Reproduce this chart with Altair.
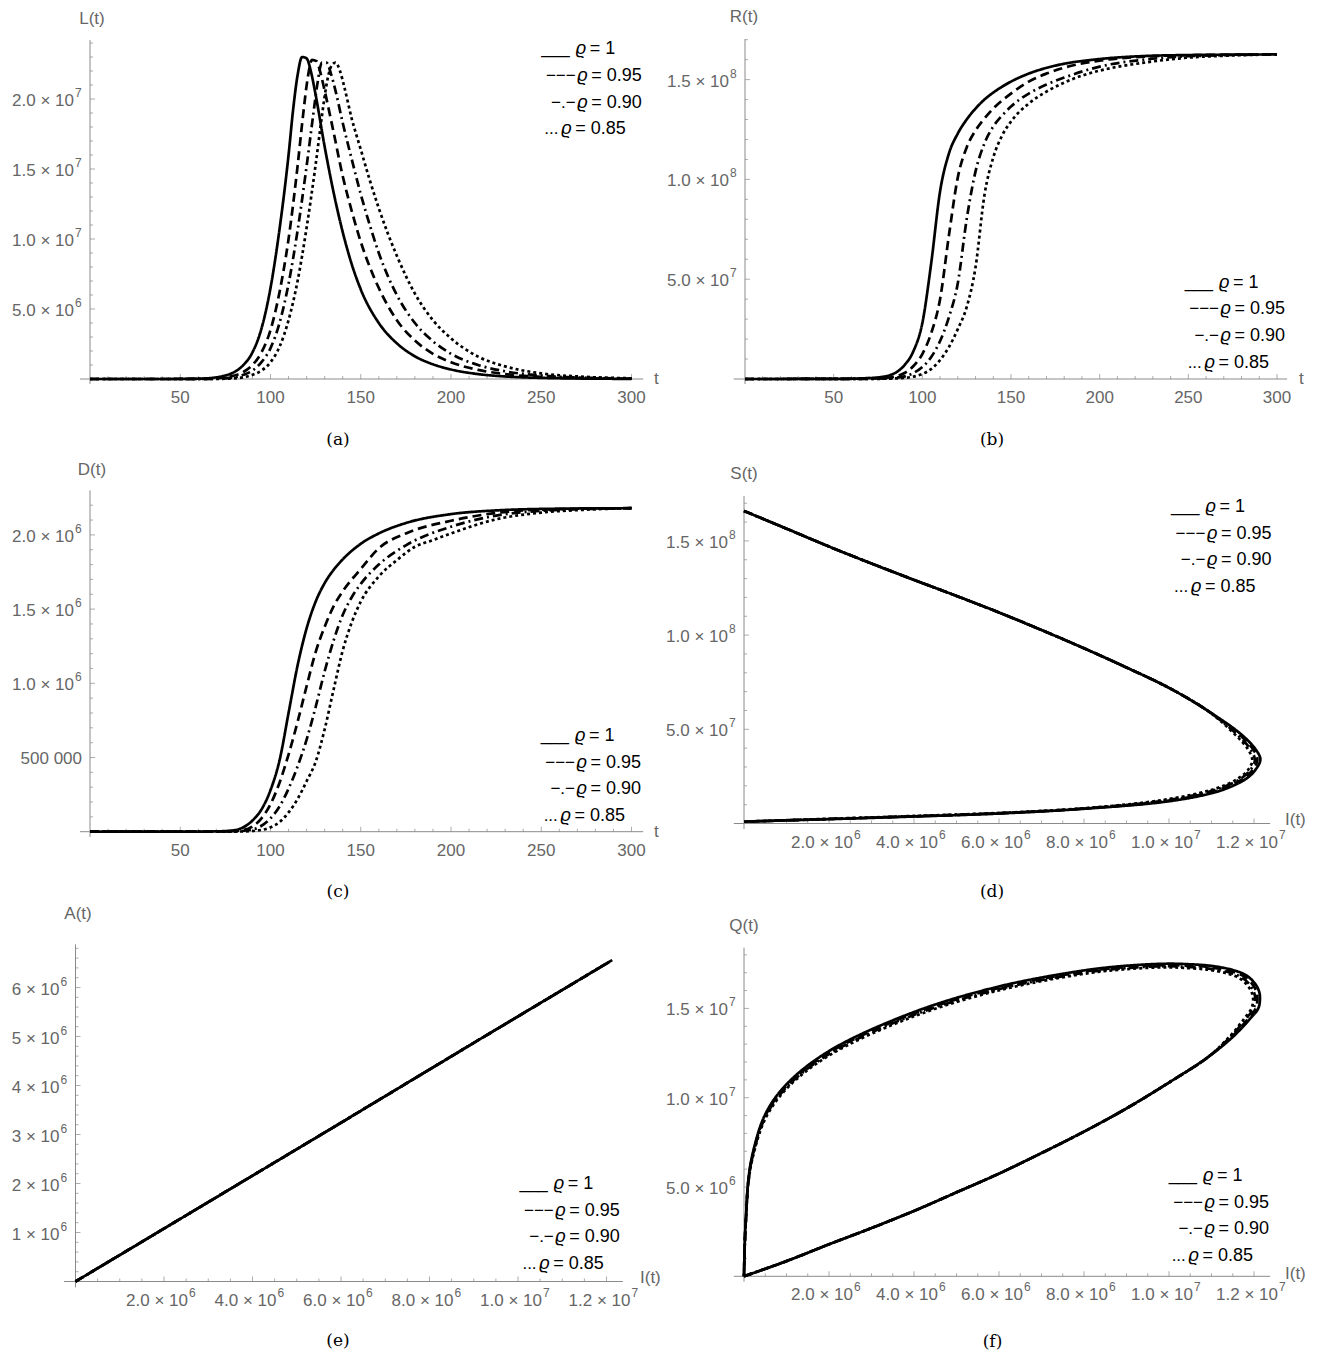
import altair as alt
import pandas as pd

# ---------------- values ----------------
LEGEND_PREFIX = ["___", "−−−", "−.−", "..."]
LEGEND_RHO = ["ϱ", "ϱ", "ϱ", "ϱ"]
LEGEND_VALUE = ["= 1", "= 0.95", "= 0.90", "= 0.85"]

# (a) L(t), millions
L_t1 = [0, 40, 55, 65, 70, 75, 80, 85, 90, 95, 100, 105, 110, 112.5, 115, 117.5, 120, 122.5, 125, 130, 135, 140, 145, 150, 160, 170, 180, 190, 200, 215, 230, 250, 275, 300]
L_v1 = [0.0, 0.0, 0.01, 0.05, 0.12, 0.25, 0.5, 1.0, 1.9, 3.6, 6.5, 10.7, 16.0, 19.2, 21.7, 23.0, 22.9, 21.9, 20.3, 16.6, 13.3, 10.5, 8.2, 6.4, 4.0, 2.55, 1.62, 1.05, 0.68, 0.35, 0.18, 0.08, 0.03, 0.01]
L_t2 = [0, 45, 60, 70, 80, 85, 90, 95, 100, 105, 110, 115, 118, 120.5, 123, 125.5, 128, 130, 135, 140, 145, 150, 155, 160, 170, 180, 190, 200, 215, 230, 250, 275, 300]
L_v2 = [0.0, 0.0, 0.01, 0.05, 0.25, 0.5, 1.0, 1.9, 3.5, 6.2, 10.0, 15.2, 18.8, 21.4, 22.8, 22.7, 21.7, 20.6, 17.6, 14.5, 12.0, 9.8, 8.0, 6.5, 4.2, 2.75, 1.8, 1.2, 0.65, 0.35, 0.15, 0.05, 0.02]
L_t3 = [0, 50, 65, 75, 85, 90, 95, 100, 105, 110, 115, 120, 123.5, 126, 128.5, 131, 133.5, 136, 140, 145, 150, 155, 160, 170, 180, 190, 200, 215, 230, 250, 275, 300]
L_v3 = [0.0, 0.0, 0.01, 0.05, 0.3, 0.6, 1.2, 2.2, 4.0, 6.8, 10.6, 15.2, 18.7, 21.1, 22.6, 22.6, 21.8, 20.6, 18.3, 15.7, 13.2, 11.0, 9.0, 6.0, 4.0, 2.7, 1.8, 1.0, 0.55, 0.25, 0.09, 0.03]
L_t4 = [0, 55, 70, 80, 90, 95, 100, 105, 110, 115, 120, 125, 128.5, 131, 133.5, 136, 138.5, 141, 145, 150, 155, 160, 165, 170, 180, 190, 200, 215, 230, 250, 275, 300]
L_v4 = [0.0, 0.0, 0.01, 0.05, 0.3, 0.6, 1.2, 2.3, 4.2, 7.0, 10.8, 15.3, 18.8, 21.0, 22.3, 22.6, 22.0, 20.8, 18.6, 16.4, 14.2, 12.2, 10.4, 8.8, 6.1, 4.2, 2.9, 1.6, 0.9, 0.4, 0.15, 0.05]

# (b) R(t), millions
R_t1 = [0, 50, 65, 75, 80, 85, 90, 95, 100, 105, 110, 115, 120, 125, 130, 135, 140, 150, 160, 175, 200, 225, 250, 300]
R_v1 = [0, 0.05, 0.3, 0.8, 1.5, 3.2, 7, 14, 28, 58, 94, 113, 123, 130, 135.5, 140, 143.5, 149, 153, 157, 160.3, 161.8, 162.3, 162.6]
R_t2 = [0, 60, 75, 85, 90, 95, 100, 105, 110, 115, 120, 125, 130, 135, 140, 150, 160, 170, 180, 200, 225, 250, 300]
R_v2 = [0, 0.05, 0.3, 1.3, 3, 6.5, 12.5, 23, 40, 72, 101, 116, 124.5, 130.5, 135.5, 143, 149, 153, 156, 159.5, 161.5, 162.2, 162.6]
R_t3 = [0, 65, 80, 90, 95, 100, 105, 110, 115, 120, 125, 130, 135, 140, 145, 150, 160, 170, 180, 200, 225, 250, 300]
R_v3 = [0, 0.05, 0.3, 1.3, 3, 6, 11, 19, 31, 48, 80, 104, 118, 126.5, 132, 136.5, 143, 147.5, 151, 156.5, 160, 161.7, 162.6]
R_t4 = [0, 70, 85, 95, 100, 105, 110, 115, 120, 125, 130, 135, 140, 145, 150, 160, 170, 180, 190, 200, 225, 250, 275, 300]
R_v4 = [0, 0.05, 0.3, 1.2, 2.5, 5, 9.5, 16, 25, 36, 56, 92, 111, 122, 129, 138, 144, 148.5, 152, 154.5, 158.5, 161, 162.1, 162.6]

# (c) D(t), thousands
D_t1 = [0, 60, 70, 80, 85, 90, 95, 100, 105, 110, 115, 120, 125, 130, 135, 140, 150, 160, 175, 200, 225, 250, 300]
D_v1 = [0, 0.5, 2, 10, 30, 75, 150, 280, 480, 800, 1120, 1370, 1550, 1675, 1765, 1835, 1940, 2010, 2080, 2140, 2165, 2175, 2180]
D_t2 = [0, 65, 75, 85, 90, 95, 100, 105, 110, 115, 120, 125, 130, 135, 140, 150, 160, 175, 200, 225, 250, 300]
D_v2 = [0, 0.5, 2, 12, 35, 90, 185, 330, 520, 740, 980, 1210, 1380, 1520, 1620, 1770, 1910, 2010, 2095, 2148, 2170, 2180]
D_t3 = [0, 70, 80, 90, 95, 100, 105, 110, 115, 120, 125, 130, 135, 140, 145, 150, 160, 175, 200, 225, 250, 300]
D_v3 = [0, 0.5, 2, 15, 40, 90, 170, 290, 440, 620, 840, 1080, 1290, 1460, 1580, 1670, 1800, 1930, 2055, 2130, 2162, 2180]
D_t4 = [0, 75, 85, 95, 100, 105, 110, 115, 120, 125, 130, 135, 140, 145, 150, 160, 170, 180, 190, 200, 225, 250, 275, 300]
D_v4 = [0, 0.5, 2, 12, 30, 65, 130, 220, 340, 470, 690, 960, 1220, 1410, 1550, 1720, 1830, 1920, 1965, 2010, 2105, 2150, 2170, 2180]

# (d) S against I, millions
S_i1 = [0.0, 1.0, 2.0, 3.0, 4.0, 5.0, 6.0, 7.0, 8.0, 9.0, 10.0, 10.9, 11.7, 12.05, 12.15, 12.05, 11.85, 11.4, 10.9, 9.9, 8.0, 6.0, 4.0, 2.0, 0.0]
S_s1 = [165.9, 156.5, 147.0, 138.0, 129.3, 120.8, 112.0, 102.7, 93.0, 82.8, 72.0, 60.0, 47.3, 39.0, 34.0, 29.0, 24.3, 19.0, 15.5, 11.5, 7.8, 5.3, 3.7, 2.3, 1.0]
S_i2 = [0.0, 1.0, 2.0, 3.0, 4.0, 5.0, 6.0, 7.0, 8.0, 9.0, 10.0, 10.9, 11.65, 11.99, 12.08, 11.98, 11.77, 11.32, 10.82, 9.85, 8.0, 6.0, 4.0, 2.0, 0.0]
S_s2 = [165.9, 156.5, 147.0, 138.0, 129.3, 120.8, 112.0, 102.7, 93.0, 82.8, 72.0, 60.0, 47.3, 39.0, 33.8, 28.8, 24.1, 19.1, 15.7, 11.7, 7.9, 5.4, 3.8, 2.4, 1.0]
S_i3 = [0.0, 1.0, 2.0, 3.0, 4.0, 5.0, 6.0, 7.0, 8.0, 9.0, 10.0, 10.9, 11.6, 11.93, 12.02, 11.92, 11.7, 11.26, 10.76, 9.8, 8.0, 6.0, 4.0, 2.0, 0.0]
S_s3 = [165.9, 156.5, 147.0, 138.0, 129.3, 120.8, 112.0, 102.7, 93.0, 82.8, 72.0, 60.0, 47.3, 39.0, 33.6, 28.6, 24.0, 19.2, 15.9, 11.9, 8.0, 5.5, 3.9, 2.4, 1.0]
S_i4 = [0.0, 1.0, 2.0, 3.0, 4.0, 5.0, 6.0, 7.0, 8.0, 9.0, 10.0, 10.9, 11.55, 11.87, 11.96, 11.86, 11.63, 11.2, 10.7, 9.75, 8.0, 6.0, 4.0, 2.0, 0.0]
S_s4 = [165.9, 156.5, 147.0, 138.0, 129.3, 120.8, 112.0, 102.7, 93.0, 82.8, 72.0, 60.0, 47.3, 39.0, 33.4, 28.4, 23.9, 19.3, 16.1, 12.1, 8.1, 5.6, 4.0, 2.5, 1.0]

# (e) A against I, millions
A_i1 = [0.0, 3.0, 6.0, 9.0, 12.13]
A_a1 = [0.0, 1.62, 3.24, 4.87, 6.56]
A_i2 = [0.0, 3.0, 6.0, 9.0, 12.06]
A_a2 = [0.0, 1.62, 3.24, 4.87, 6.52]
A_i3 = [0.0, 3.0, 6.0, 9.0, 12.0]
A_a3 = [0.0, 1.62, 3.24, 4.87, 6.49]
A_i4 = [0.0, 3.0, 6.0, 9.0, 11.94]
A_a4 = [0.0, 1.62, 3.24, 4.87, 6.46]

# (f) Q against I, millions
Q_i1 = [0.0, 1.0, 2.0, 3.0, 4.0, 5.0, 6.0, 7.0, 8.0, 9.0, 10.0, 10.9, 11.5, 11.9, 12.1, 12.14, 12.12, 12.02, 11.82, 11.5, 11.0, 10.4, 9.9, 8.9, 7.9, 5.95, 3.96, 2.0, 1.0, 0.5, 0.2, 0.1, 0.05, 0.02, 0.0]
Q_q1 = [0.0, 0.85, 1.79, 2.7, 3.66, 4.7, 5.75, 6.9, 8.1, 9.4, 10.85, 12.24, 13.4, 14.4, 15.0, 15.5, 15.95, 16.4, 16.85, 17.15, 17.38, 17.48, 17.5, 17.37, 17.09, 16.2, 14.76, 12.61, 10.75, 9.07, 6.83, 5.34, 3.47, 2.0, 0.0]
Q_i2 = [0.0, 1.0, 2.0, 3.0, 4.0, 5.0, 6.0, 7.0, 8.0, 9.0, 10.0, 10.9, 11.48, 11.86, 12.04, 12.08, 12.06, 11.96, 11.77, 11.46, 10.97, 10.38, 9.9, 8.9, 7.9, 5.95, 3.96, 2.0, 1.0, 0.5, 0.2, 0.1, 0.05, 0.02, 0.0]
Q_q2 = [0.0, 0.85, 1.79, 2.7, 3.66, 4.7, 5.75, 6.9, 8.1, 9.4, 10.85, 12.24, 13.42, 14.42, 15.0, 15.5, 15.93, 16.36, 16.79, 17.08, 17.3, 17.4, 17.42, 17.3, 17.02, 16.12, 14.68, 12.52, 10.66, 8.98, 6.75, 5.28, 3.42, 1.97, 0.0]
Q_i3 = [0.0, 1.0, 2.0, 3.0, 4.0, 5.0, 6.0, 7.0, 8.0, 9.0, 10.0, 10.9, 11.46, 11.82, 11.99, 12.03, 12.0, 11.9, 11.72, 11.42, 10.94, 10.36, 9.9, 8.9, 7.9, 5.95, 3.96, 2.0, 1.0, 0.5, 0.2, 0.1, 0.05, 0.02, 0.0]
Q_q3 = [0.0, 0.85, 1.79, 2.7, 3.66, 4.7, 5.75, 6.9, 8.1, 9.4, 10.85, 12.24, 13.44, 14.44, 15.0, 15.5, 15.9, 16.32, 16.73, 17.01, 17.23, 17.33, 17.36, 17.24, 16.96, 16.05, 14.6, 12.44, 10.58, 8.9, 6.68, 5.22, 3.38, 1.95, 0.0]
Q_i4 = [0.0, 1.0, 2.0, 3.0, 4.0, 5.0, 6.0, 7.0, 8.0, 9.0, 10.0, 10.9, 11.44, 11.78, 11.94, 11.98, 11.95, 11.85, 11.67, 11.38, 10.91, 10.34, 9.9, 8.9, 7.9, 5.95, 3.96, 2.0, 1.0, 0.5, 0.2, 0.1, 0.05, 0.02, 0.0]
Q_q4 = [0.0, 0.85, 1.79, 2.7, 3.66, 4.7, 5.75, 6.9, 8.1, 9.4, 10.85, 12.24, 13.46, 14.46, 15.0, 15.5, 15.87, 16.28, 16.67, 16.95, 17.17, 17.27, 17.3, 17.18, 16.9, 15.98, 14.52, 12.36, 10.5, 8.82, 6.6, 5.16, 3.33, 1.92, 0.0]

# tick labels
T_TICKS = [50, 100, 150, 200, 250, 300]
T_LABELS = ["50", "100", "150", "200", "250", "300"]
I_TICKS = [2, 4, 6, 8, 10, 12]
I_BASE = ["2.0 × 10", "4.0 × 10", "6.0 × 10", "8.0 × 10", "1.0 × 10", "1.2 × 10"]
I_EXP = ["6", "6", "6", "6", "7", "7"]
L_TICKS = [5, 10, 15, 20]
L_BASE = ["5.0 × 10", "1.0 × 10", "1.5 × 10", "2.0 × 10"]
L_EXP = ["6", "7", "7", "7"]
R_TICKS = [50, 100, 150]
R_BASE = ["5.0 × 10", "1.0 × 10", "1.5 × 10"]
R_EXP = ["7", "8", "8"]
D_TICKS = [500, 1000, 1500, 2000]
D_BASE = ["500 000", "1.0 × 10", "1.5 × 10", "2.0 × 10"]
D_EXP = ["", "6", "6", "6"]
A_TICKS = [1, 2, 3, 4, 5, 6]
A_BASE = ["1 × 10", "2 × 10", "3 × 10", "4 × 10", "5 × 10", "6 × 10"]
A_EXP = ["6", "6", "6", "6", "6", "6"]
Q_TICKS = [5, 10, 15]
Q_BASE = ["5.0 × 10", "1.0 × 10", "1.5 × 10"]
Q_EXP = ["6", "7", "7"]

# ---------------- styling ----------------
SANS = "Liberation Sans"
LEG_FONT = "Liberation Sans"
SERIF = "DejaVu Serif"
AXC = "#8a8a8a"
LBC = "#666666"
TICK_FS = 17
EXP_FS = 12
DASHES = [[1, 0], [9, 5], [9, 4, 2, 4], [3, 3]]
W = 657
ROW_H = [450, 442, 451]


def minor(step, n, every):
    return [i * step for i in range(1, n) if i % every != 0]


def build_panel(p):
    xs = alt.Scale(domain=p["xdom"], range=p["xrng"], nice=False, zero=False)
    ys = alt.Scale(domain=p["ydom"], range=p["yrng"], nice=False, zero=False)

    def X(f):
        return alt.X(f, type="quantitative", scale=xs, axis=None)

    def Y(f):
        return alt.Y(f, type="quantitative", scale=ys, axis=None)

    def XD(v):
        return alt.XDatum(v, type="quantitative", scale=xs, axis=None)

    def YD(v):
        return alt.YDatum(v, type="quantitative", scale=ys, axis=None)

    layers = []
    # axis lines
    layers.append(alt.Chart(pd.DataFrame({"a": [p["xaxis"][0]], "b": [p["xaxis"][1]]}))
                  .mark_rule(color=AXC, strokeWidth=1)
                  .encode(x=X("a"), x2=alt.X2("b"), y=YD(0)))
    layers.append(alt.Chart(pd.DataFrame({"a": [p["yaxis"][0]], "b": [p["yaxis"][1]]}))
                  .mark_rule(color=AXC, strokeWidth=1)
                  .encode(y=Y("a"), y2=alt.Y2("b"), x=XD(0)))
    # ticks
    for vals, size in ((p["xmajor"], 5), (p["xminor"], 3)):
        layers.append(alt.Chart(pd.DataFrame({"v": vals}))
                      .mark_tick(orient="vertical", size=size, thickness=1, color=AXC, yOffset=-size / 2)
                      .encode(x=X("v"), y=YD(0)))
    for vals, size in ((p["ymajor"], 5), (p["yminor"], 3)):
        layers.append(alt.Chart(pd.DataFrame({"v": vals}))
                      .mark_tick(orient="horizontal", size=size, thickness=1, color=AXC, xOffset=size / 2)
                      .encode(y=Y("v"), x=XD(0)))
    # curves
    for i, (xv, yv) in enumerate(p["series"]):
        df = pd.DataFrame({"x": xv, "y": yv, "o": list(range(len(xv)))})
        layers.append(alt.Chart(df)
                      .mark_line(color="black", strokeWidth=2.7, strokeDash=DASHES[i],
                                 interpolate=p["interp"], strokeCap="butt")
                      .encode(x=X("x"), y=Y("y"), order=alt.Order("o:Q")))
    # x tick labels
    xl = pd.DataFrame({"v": p["xlab"][0], "base": p["xlab"][1], "exp": p["xlab"][2]})
    if all(e == "" for e in p["xlab"][2]):
        layers.append(alt.Chart(xl).mark_text(font=SANS, fontSize=TICK_FS, color=LBC, align="center",
                                              baseline="middle", dy=19)
                      .encode(x=X("v"), y=YD(0), text="base:N"))
    else:
        layers.append(alt.Chart(xl).mark_text(font=SANS, fontSize=TICK_FS, color=LBC, align="right",
                                              baseline="middle", dx=24, dy=19)
                      .encode(x=X("v"), y=YD(0), text="base:N"))
        layers.append(alt.Chart(xl).mark_text(font=SANS, fontSize=EXP_FS, color=LBC, align="left",
                                              baseline="middle", dx=25, dy=11)
                      .encode(x=X("v"), y=YD(0), text="exp:N"))
    # y tick labels
    yl = pd.DataFrame({"v": p["ylab"][0], "base": p["ylab"][1], "exp": p["ylab"][2]})
    plain = yl[yl["exp"] == ""]
    sup = yl[yl["exp"] != ""]
    if len(plain):
        layers.append(alt.Chart(plain).mark_text(font=SANS, fontSize=TICK_FS, color=LBC, align="right",
                                                 baseline="middle", dx=-8, dy=1)
                      .encode(y=Y("v"), x=XD(0), text="base:N"))
    layers.append(alt.Chart(sup).mark_text(font=SANS, fontSize=TICK_FS, color=LBC, align="right",
                                           baseline="middle", dx=-16, dy=2)
                  .encode(y=Y("v"), x=XD(0), text="base:N"))
    layers.append(alt.Chart(sup).mark_text(font=SANS, fontSize=EXP_FS, color=LBC, align="left",
                                           baseline="middle", dx=-15, dy=-6)
                  .encode(y=Y("v"), x=XD(0), text="exp:N"))
    # axis titles
    layers.append(alt.Chart(pd.DataFrame({"t": [p["ytitle"][0]]}))
                  .mark_text(font=SANS, fontSize=17, color=LBC, align="center", baseline="middle")
                  .encode(x=alt.value(p["ytitle"][1]), y=alt.value(p["ytitle"][2]), text="t:N"))
    layers.append(alt.Chart(pd.DataFrame({"t": [p["xtitle"][0]]}))
                  .mark_text(font=SANS, fontSize=17, color=LBC, align="left", baseline="middle")
                  .encode(x=alt.value(p["xtitle"][1]), y=alt.value(p["xtitle"][2]), text="t:N"))
    # legend text
    ax, ay = p["legend"]
    rho_dx = [34, 35.5, 35.5, 19.5]
    gap = [6, 1.5, 1.5, 2.7]
    leg = pd.DataFrame({
        "prefix": LEGEND_PREFIX, "rho": LEGEND_RHO, "val": LEGEND_VALUE,
        "xr": [ax + d for d in rho_dx],
        "xp": [ax + d - g for d, g in zip(rho_dx, gap)],
        "xv": [ax + d + 14 for d in rho_dx],
        "y": [ay + 26.6 * i for i in range(4)],
    })
    layers.append(alt.Chart(leg).mark_text(font=LEG_FONT, fontSize=17, color="black", align="right", baseline="middle")
                  .encode(x=alt.X("xp:Q", scale=None), y=alt.Y("y:Q", scale=None), text="prefix:N"))
    layers.append(alt.Chart(leg).mark_text(font=LEG_FONT, fontSize=18, fontStyle="italic", color="black",
                                           align="left", baseline="middle")
                  .encode(x=alt.X("xr:Q", scale=None), y=alt.Y("y:Q", scale=None), text="rho:N"))
    layers.append(alt.Chart(leg).mark_text(font=LEG_FONT, fontSize=18, color="black", align="left", baseline="middle")
                  .encode(x=alt.X("xv:Q", scale=None), y=alt.Y("y:Q", scale=None), text="val:N"))
    # caption
    layers.append(alt.Chart(pd.DataFrame({"t": [p["caption"][0]]}))
                  .mark_text(font=SERIF, fontSize=17, color="black", align="center", baseline="middle")
                  .encode(x=alt.value(p["caption"][1]), y=alt.value(p["caption"][2]), text="t:N"))
    return alt.layer(*layers).properties(width=W, height=p["h"])


PA = dict(h=ROW_H[0], xdom=[0, 300], xrng=[82, 623.5], ydom=[0, 25], yrng=[370, 20],
          xaxis=[-5.5, 306.5], yaxis=[-0.35, 24.2],
          xmajor=T_TICKS, xminor=minor(10, 31, 5), ymajor=L_TICKS, yminor=minor(1, 25, 5),
          series=[(L_t1, L_v1), (L_t2, L_v2), (L_t3, L_v3), (L_t4, L_v4)], interp="monotone",
          xlab=(T_TICKS, T_LABELS, [""] * 6), ylab=(L_TICKS, L_BASE, L_EXP),
          ytitle=("L(t)", 84, 10), xtitle=("t", 646, 370), legend=(533.7, 40.3), caption=("(a)", 330, 431))
PB = dict(h=ROW_H[0], xdom=[0, 300], xrng=[80, 612], ydom=[0, 175], yrng=[370, 20.7],
          xaxis=[-6.4, 305.7], yaxis=[-2.5, 170.3],
          xmajor=T_TICKS, xminor=minor(10, 31, 5), ymajor=R_TICKS, yminor=minor(10, 18, 5),
          series=[(R_t1, R_v1), (R_t2, R_v2), (R_t3, R_v3), (R_t4, R_v4)], interp="monotone",
          xlab=(T_TICKS, T_LABELS, [""] * 6), ylab=(R_TICKS, R_BASE, R_EXP),
          ytitle=("R(t)", 79, 8), xtitle=("t", 634, 370), legend=(520, 273.7), caption=("(b)", 327, 431))
PC = dict(h=ROW_H[1], xdom=[0, 300], xrng=[82, 623.5], ydom=[0, 2500], yrng=[372.7, 1.7],
          xaxis=[-5.5, 306.5], yaxis=[-35, 2300],
          xmajor=T_TICKS, xminor=minor(10, 31, 5), ymajor=D_TICKS, yminor=minor(100, 23, 5),
          series=[(D_t1, D_v1), (D_t2, D_v2), (D_t3, D_v3), (D_t4, D_v4)], interp="monotone",
          xlab=(T_TICKS, T_LABELS, [""] * 6), ylab=(D_TICKS, D_BASE, D_EXP),
          ytitle=("D(t)", 84, 11), xtitle=("t", 646, 372.7), legend=(533, 277), caption=("(c)", 330, 433))
PD = dict(h=ROW_H[1], xdom=[0, 12], xrng=[79, 589], ydom=[0, 175], yrng=[364.5, 34.8],
          xaxis=[-0.24, 12.38], yaxis=[-3, 173.8],
          xmajor=I_TICKS, xminor=minor(0.5, 25, 4), ymajor=R_TICKS, yminor=minor(10, 18, 5),
          series=[(S_i1, S_s1), (S_i2, S_s2), (S_i3, S_s3), (S_i4, S_s4)], interp="catmull-rom",
          xlab=(I_TICKS, I_BASE, I_EXP), ylab=(R_TICKS, R_BASE, R_EXP),
          ytitle=("S(t)", 79, 15), xtitle=("I(t)", 620, 361), legend=(506.4, 48), caption=("(d)", 327, 433))
PE = dict(h=ROW_H[2], xdom=[0, 12], xrng=[67.5, 598.5], ydom=[0, 7], yrng=[380.5, 37.5],
          xaxis=[-0.26, 12.37], yaxis=[-0.12, 6.88],
          xmajor=I_TICKS, xminor=minor(0.5, 25, 4), ymajor=A_TICKS, yminor=minor(0.2, 35, 5),
          series=[(A_i1, A_a1), (A_i2, A_a2), (A_i3, A_a3), (A_i4, A_a4)], interp="linear",
          xlab=(I_TICKS, I_BASE, I_EXP), ylab=(A_TICKS, A_BASE, A_EXP),
          ytitle=("A(t)", 70, 13), xtitle=("I(t)", 632, 377), legend=(511.8, 283), caption=("(e)", 330, 440))
PF = dict(h=ROW_H[2], xdom=[0, 12], xrng=[79, 589], ydom=[0, 20], yrng=[375.3, 18.1],
          xaxis=[-0.24, 12.38], yaxis=[-0.3, 18.4],
          xmajor=I_TICKS, xminor=minor(0.5, 25, 4), ymajor=Q_TICKS, yminor=minor(1, 19, 5),
          series=[(Q_i1, Q_q1), (Q_i2, Q_q2), (Q_i3, Q_q3), (Q_i4, Q_q4)], interp="catmull-rom",
          xlab=(I_TICKS, I_BASE, I_EXP), ylab=(Q_TICKS, Q_BASE, Q_EXP),
          ytitle=("Q(t)", 79, 25), xtitle=("I(t)", 620, 373), legend=(504, 275), caption=("(f)", 327.5, 441))

panels = [build_panel(p) for p in (PA, PB, PC, PD, PE, PF)]
chart = (alt.concat(*panels, columns=2, spacing=0, bounds="flush")
         .properties(padding=0, background="white")
         .configure_view(stroke=None))

chart.save("out.html", embed_options={"renderer": "svg", "actions": False})
